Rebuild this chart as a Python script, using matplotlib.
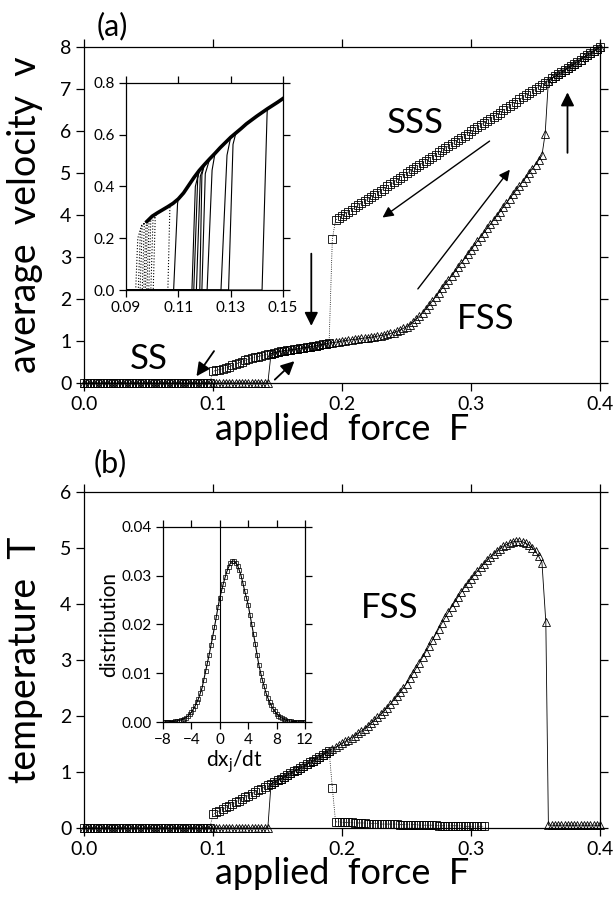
import numpy as np
import matplotlib
matplotlib.use('Agg')
import matplotlib.pyplot as plt

plt.rcParams['font.family'] = ['Lato', 'DejaVu Sans']
plt.rcParams['mathtext.default'] = 'regular'

# ---------------- panel (a): average velocity ----------------
# increasing force (triangles): pinned, FSS branch, then jump onto SSS
F_up_a = np.r_[np.arange(0, 0.35501, 0.0025), 0.3575, np.arange(0.36, 0.40001, 0.0025)]
v_up_a = [0.0] * 58 + [
    0.70, 0.72, 0.74, 0.755, 0.77, 0.78, 0.79, 0.80, 0.81, 0.825,
    0.84, 0.85, 0.86, 0.875, 0.89, 0.905, 0.92, 0.935, 0.95, 0.96,
    0.97, 0.985, 1.00, 1.01, 1.02, 1.03, 1.04, 1.05, 1.06, 1.07,
    1.08, 1.09, 1.10, 1.115, 1.13, 1.145, 1.16, 1.18, 1.20, 1.23,
    1.26, 1.30, 1.34, 1.39, 1.45, 1.52, 1.59, 1.67, 1.76, 1.85,
    1.95, 2.05, 2.15, 2.25, 2.35, 2.45, 2.55, 2.65, 2.76, 2.86,
    2.96, 3.07, 3.17, 3.27, 3.38, 3.48, 3.58, 3.68, 3.78, 3.88,
    3.98, 4.08, 4.19, 4.29, 4.39, 4.49, 4.59, 4.69, 4.79, 4.89,
    5.00, 5.10, 5.20, 5.31, 5.42,
    5.94,
    7.20, 7.25, 7.30, 7.35, 7.40, 7.45, 7.50, 7.55, 7.60, 7.65,
    7.70, 7.75, 7.80, 7.85, 7.90, 7.95, 8.00]

# decreasing force (squares): SSS line, drop at 0.192, FSS, pinned below 0.1
F_dn_a = np.r_[np.arange(0, 0.09751, 0.0025), np.arange(0.1, 0.19001, 0.0025), 0.1925,
               np.arange(0.195, 0.40001, 0.0025)]
v_dn_a = [0.0] * 40 + [
    0.28, 0.30, 0.32, 0.34, 0.36, 0.39, 0.42, 0.45, 0.48, 0.51,
    0.54, 0.565, 0.59, 0.61, 0.63, 0.65, 0.67, 0.685, 0.70, 0.72,
    0.74, 0.755, 0.77, 0.78, 0.79, 0.80, 0.81, 0.825, 0.84, 0.85,
    0.86, 0.875, 0.89, 0.905, 0.92, 0.935, 0.95,
    3.42,
    3.88, 3.93, 3.98, 4.03, 4.08, 4.13, 4.18, 4.23, 4.28, 4.33,
    4.38, 4.43, 4.48, 4.53, 4.58, 4.63, 4.68, 4.73, 4.78, 4.83,
    4.89, 4.94, 4.99, 5.04, 5.09, 5.14, 5.19, 5.24, 5.29, 5.34,
    5.39, 5.44, 5.49, 5.54, 5.59, 5.64, 5.69, 5.74, 5.79, 5.84,
    5.89, 5.94, 5.99, 6.04, 6.09, 6.14, 6.19, 6.24, 6.29, 6.34,
    6.39, 6.44, 6.49, 6.54, 6.59, 6.64, 6.70, 6.75, 6.80, 6.85,
    6.90, 6.95, 7.00, 7.05, 7.10, 7.15, 7.20, 7.25, 7.30, 7.35,
    7.40, 7.45, 7.50, 7.55, 7.60, 7.65, 7.70, 7.75, 7.80, 7.85,
    7.90, 7.95, 8.00]

# ---------------- panel (b): temperature ----------------
F_up_b = np.r_[np.arange(0, 0.35501, 0.0025), 0.358, np.arange(0.36, 0.40001, 0.0025)]
T_up_b = [0.0] * 58 + [
    0.79, 0.82, 0.85, 0.88, 0.91, 0.945, 0.98, 1.01, 1.04, 1.07,
    1.10, 1.135, 1.17, 1.205, 1.24, 1.275, 1.31, 1.345, 1.38, 1.41,
    1.44, 1.475, 1.51, 1.545, 1.58, 1.615, 1.65, 1.69, 1.73, 1.775,
    1.82, 1.87, 1.92, 1.975, 2.03, 2.09, 2.15, 2.215, 2.28, 2.35,
    2.42, 2.50, 2.58, 2.67, 2.76, 2.855, 2.95, 3.05, 3.15, 3.25,
    3.35, 3.455, 3.56, 3.66, 3.76, 3.855, 3.95, 4.04, 4.13, 4.215,
    4.30, 4.375, 4.45, 4.52, 4.59, 4.655, 4.72, 4.78, 4.84, 4.895,
    4.95, 4.99, 5.03, 5.06, 5.09, 5.11, 5.12, 5.12, 5.11, 5.085,
    5.05, 5.00, 4.94, 4.85, 4.74,
    3.68,
    0.05, 0.05, 0.05, 0.05, 0.05, 0.05, 0.05, 0.05, 0.05, 0.05,
    0.05, 0.05, 0.05, 0.05, 0.05, 0.05, 0.05]

F_dn_b = np.r_[np.arange(0, 0.09751, 0.0025), np.arange(0.1, 0.19001, 0.0025), 0.1925,
               np.arange(0.195, 0.31001, 0.0025)]
T_dn_b = [0.0] * 40 + [
    0.25, 0.28, 0.31, 0.34, 0.37, 0.40, 0.43, 0.46, 0.49, 0.52,
    0.55, 0.58, 0.61, 0.64, 0.67, 0.70, 0.73, 0.76, 0.79, 0.82,
    0.85, 0.88, 0.91, 0.945, 0.98, 1.01, 1.04, 1.07, 1.10, 1.135,
    1.17, 1.205, 1.24, 1.275, 1.31, 1.345, 1.38,
    0.72,
    0.11, 0.11, 0.10, 0.10, 0.10, 0.10, 0.09, 0.09, 0.09, 0.09,
    0.08, 0.08, 0.08, 0.08, 0.07, 0.07, 0.07, 0.07, 0.07, 0.07,
    0.06, 0.06, 0.06, 0.06, 0.06, 0.06, 0.05, 0.05, 0.05, 0.05,
    0.05, 0.05, 0.04, 0.04, 0.04, 0.04, 0.04, 0.04, 0.04, 0.04,
    0.03, 0.03, 0.03, 0.03, 0.03, 0.03, 0.03]

# ---------------- inset (a): several runs near depinning ----------------
ins_F = [0.094, 0.096, 0.098, 0.100, 0.102, 0.104, 0.106, 0.108, 0.110, 0.112,
         0.114, 0.116, 0.118, 0.120, 0.122, 0.124, 0.126, 0.128, 0.130, 0.132,
         0.134, 0.136, 0.138, 0.140, 0.142, 0.144, 0.146, 0.148, 0.150]
ins_v = [0.235, 0.250, 0.265, 0.285, 0.298, 0.310, 0.322, 0.335, 0.352, 0.375,
         0.405, 0.435, 0.462, 0.485, 0.507, 0.528, 0.550, 0.570, 0.590, 0.607,
         0.624, 0.642, 0.657, 0.672, 0.686, 0.700, 0.713, 0.726, 0.740]
# increasing runs: last force at v=0, first force on the moving branch, v there
jump_F0 = [0.1082, 0.1152, 0.1159, 0.1169, 0.1182, 0.1190, 0.1210, 0.1263, 0.1292, 0.1420]
jump_F1 = [0.1097, 0.1165, 0.1174, 0.1184, 0.1190, 0.1203, 0.1229, 0.1286, 0.1309, 0.1439]
jump_v1 = [0.334, 0.400, 0.430, 0.440, 0.445, 0.450, 0.463, 0.521, 0.563, 0.675]
# decreasing runs: force and v where the run falls back to rest
drop_F = [0.0945, 0.0955, 0.0962, 0.0970, 0.0976, 0.0982, 0.0988, 0.0995, 0.1003, 0.1012, 0.1068]
drop_v = [0.200, 0.230, 0.250, 0.260, 0.240, 0.270, 0.260, 0.280, 0.270, 0.290, 0.330]

# ---------------- inset (b): velocity distribution ----------------
dist_x = np.arange(-8, 12.001, 0.25)
dist_y = [0.0000, 0.0000, 0.0000, 0.0000, 0.0001, 0.0001, 0.0001, 0.0002, 0.0002, 0.0003,
          0.0004, 0.0005, 0.0007, 0.0009, 0.0012, 0.0016, 0.0020, 0.0026, 0.0032, 0.0040,
          0.0048, 0.0059, 0.0070, 0.0087, 0.0104, 0.0121, 0.0138, 0.0157, 0.0175, 0.0195,
          0.0215, 0.0236, 0.0255, 0.0270, 0.0284, 0.0297, 0.0309, 0.0318, 0.0326, 0.0330,
          0.0330, 0.0327, 0.0321, 0.0311, 0.0300, 0.0285, 0.0269, 0.0255, 0.0240, 0.0220,
          0.0200, 0.0180, 0.0160, 0.0138, 0.0117, 0.0101, 0.0086, 0.0073, 0.0060, 0.0050,
          0.0041, 0.0034, 0.0027, 0.0022, 0.0017, 0.0013, 0.0010, 0.0008, 0.0006, 0.0004,
          0.0003, 0.0002, 0.0002, 0.0001, 0.0001, 0.0001, 0.0000, 0.0000, 0.0000, 0.0000,
          0.0000]


def style(ax, length, fs):
    ax.tick_params(direction='out', top=True, right=True, length=length, width=0.9,
                   labelsize=fs, pad=3)
    for s in ax.spines.values():
        s.set_linewidth(0.9)


fig = plt.figure(figsize=(6.15, 8.97), dpi=100)
W, H = 615.0, 897.0
ax_a = fig.add_axes([84 / W, 1 - 383 / H, 516 / W, 336 / H])
ax_b = fig.add_axes([84 / W, 1 - 828 / H, 516 / W, 336 / H])

mk = dict(color='k', lw=0.6, mfc='none', mec='k', mew=0.6, ms=5.5, clip_on=False)

# panel a
ax_a.plot(F_up_a, v_up_a, marker='^', ls='-', **mk)
ax_a.plot(F_dn_a, v_dn_a, marker='s', ls=':', **mk)
ax_a.set_xlim(0, 0.4)
ax_a.set_ylim(0, 8)
ax_a.set_xticks([0, 0.1, 0.2, 0.3, 0.4])
ax_a.set_xticklabels(['0.0', '0.1', '0.2', '0.3', '0.4'])
ax_a.set_yticks(range(0, 9))
style(ax_a, 6, 14)
ax_a.set_xlabel('applied  force  F', fontsize=26, va='top')
ax_a.set_ylabel('average  velocity  v', fontsize=27)
ax_a.xaxis.set_label_coords(0.5, -0.09)
ax_a.yaxis.set_label_coords(-0.08, 0.5)
ax_a.text(0.257, 6.2, 'SSS', fontsize=25, ha='center', va='center')
ax_a.text(0.311, 1.52, 'FSS', fontsize=25, ha='center', va='center')
ax_a.text(0.050, 0.58, 'SS', fontsize=25, ha='center', va='center')
ax_a.text(0.022, 8.5, '(a)', fontsize=22, ha='center', va='center', clip_on=False)

thin = dict(arrowstyle='-|>', color='k', lw=1.0, mutation_scale=16, shrinkA=0, shrinkB=0)
bold = dict(arrowstyle='-|>', color='k', lw=1.3, mutation_scale=20, shrinkA=0, shrinkB=0)
ax_a.annotate('', xy=(0.2314, 3.94), xytext=(0.3144, 5.76), arrowprops=thin)
ax_a.annotate('', xy=(0.3301, 5.08), xytext=(0.2588, 2.24), arrowprops=thin)
ax_a.annotate('', xy=(0.3748, 6.92), xytext=(0.3748, 5.48), arrowprops=bold)
ax_a.annotate('', xy=(0.1762, 1.36), xytext=(0.1762, 3.08), arrowprops=bold)
ax_a.annotate('', xy=(0.0872, 0.16), xytext=(0.1008, 0.76), arrowprops=bold)
ax_a.annotate('', xy=(0.1631, 0.52), xytext=(0.1479, 0.08), arrowprops=bold)

# panel b
ax_b.plot(F_up_b, T_up_b, marker='^', ls='-', **mk)
ax_b.plot(F_dn_b, T_dn_b, marker='s', ls=':', **mk)
ax_b.set_xlim(0, 0.4)
ax_b.set_ylim(0, 6)
ax_b.set_xticks([0, 0.1, 0.2, 0.3, 0.4])
ax_b.set_xticklabels(['0.0', '0.1', '0.2', '0.3', '0.4'])
ax_b.set_yticks(range(0, 7))
style(ax_b, 6, 14)
ax_b.set_xlabel('applied  force  F', fontsize=26, va='top')
ax_b.set_ylabel('temperature  T', fontsize=27)
ax_b.xaxis.set_label_coords(0.5, -0.085)
ax_b.yaxis.set_label_coords(-0.08, 0.5)
ax_b.text(0.237, 3.92, 'FSS', fontsize=25, ha='center', va='center')
ax_b.text(0.020, 6.52, '(b)', fontsize=22, ha='center', va='center', clip_on=False)

# inset a
ins_a = fig.add_axes([126 / W, 1 - 290 / H, 157 / W, 207 / H])
ins_a.plot(ins_F[2:], ins_v[2:], color='k', lw=2.6)
for f0, f1, v1 in zip(jump_F0, jump_F1, jump_v1):
    fr = [f for f in ins_F if f > f1]
    vr = [v for f, v in zip(ins_F, ins_v) if f > f1]
    ins_a.plot([0.09, f0, f1] + fr, [0, 0, v1] + vr, color='k', lw=0.8)
for fd, vd in zip(drop_F, drop_v):
    fr = [f for f in ins_F if f > fd][::-1]
    vr = [v for f, v in zip(ins_F, ins_v) if f > fd][::-1]
    ins_a.plot(fr + [fd, fd - 0.0008, 0.09], vr + [vd, 0, 0], color='k', lw=0.8, ls=':')
ins_a.set_xlim(0.09, 0.15)
ins_a.set_ylim(0, 0.8)
ins_a.set_xticks([0.09, 0.11, 0.13, 0.15])
ins_a.set_xticklabels(['0.09', '0.11', '0.13', '0.15'])
ins_a.set_yticks([0, 0.2, 0.4, 0.6, 0.8])
ins_a.set_yticklabels(['0.0', '0.2', '0.4', '0.6', '0.8'])
style(ins_a, 5, 11)

# inset b
ins_b = fig.add_axes([163 / W, 1 - 722 / H, 142 / W, 195 / H])
ins_b.axvline(0, color='k', lw=0.8)
ins_b.plot(dist_x, dist_y, color='k', lw=0.8, marker='s', mfc='none', mec='k', mew=0.5, ms=3)
ins_b.set_xlim(-8, 12)
ins_b.set_ylim(0, 0.04)
ins_b.set_xticks([-8, -4, 0, 4, 8, 12])
ins_b.set_yticks([0, 0.01, 0.02, 0.03, 0.04])
ins_b.set_yticklabels(['0.00', '0.01', '0.02', '0.03', '0.04'])
style(ins_b, 5, 11)
ins_b.set_xlabel('dx$_j$/dt', fontsize=15, labelpad=1)
ins_b.set_ylabel('distribution', fontsize=15, labelpad=2)

fig.savefig('out.png', dpi=100)
